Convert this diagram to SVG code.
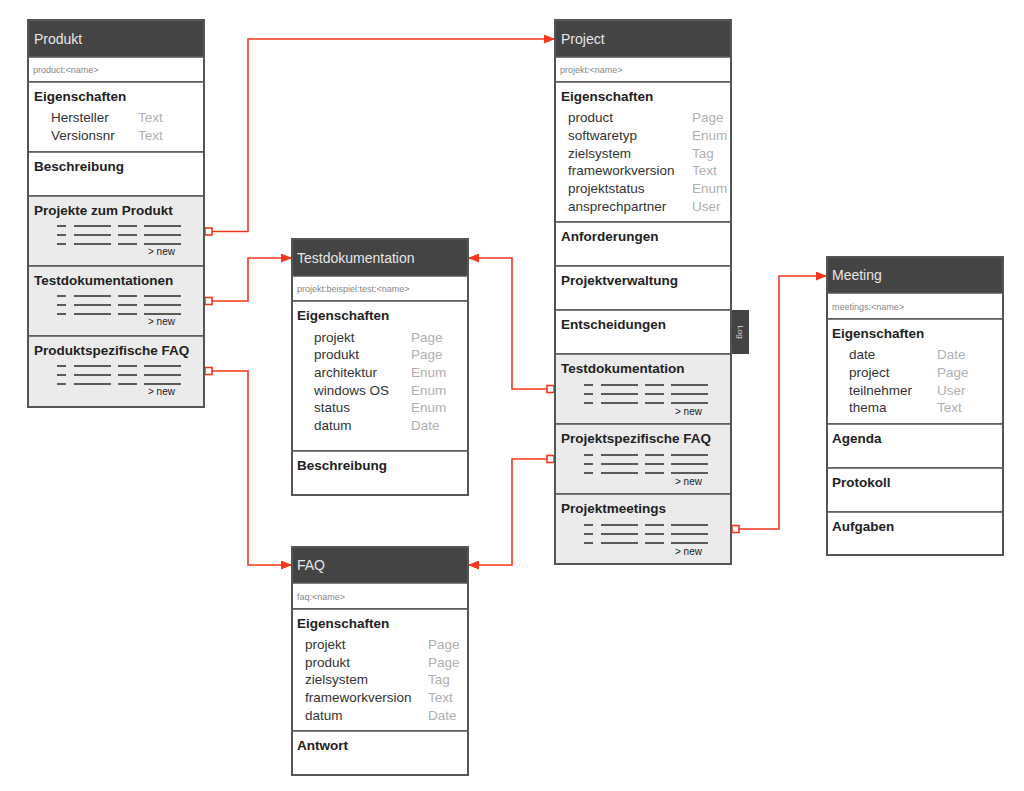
<svg xmlns="http://www.w3.org/2000/svg" xmlns:xlink="http://www.w3.org/1999/xlink" width="1024" height="791" viewBox="0 0 1024 791">
<style>
text{font-family:"Liberation Sans",Arial,Helvetica,sans-serif}
.sec{fill:#fff;stroke:#555;stroke-width:1.5}
.gsec{fill:#ebebeb;stroke:#555;stroke-width:1.5}
.hdr{fill:#444;stroke:#555;stroke-width:1.5}
.out{fill:none;stroke:#555;stroke-width:2}
.title{font-size:14px;fill:#e6e6e6}
.sub{font-size:9px;fill:#888}
.st{font-size:13.5px;font-weight:bold;fill:#222}
.pn{font-size:13.5px;fill:#333}
.pt{font-size:13.5px;fill:#b0b0b0}
.new{font-size:10px;fill:#222}
.ll{stroke:#5a5a5a;stroke-width:2}
.con{fill:none;stroke:#f4361c;stroke-width:1.6}
.sq{fill:#fff;stroke:#f4361c;stroke-width:1.6}
</style>
<defs>
<marker id="arr" markerUnits="userSpaceOnUse" markerWidth="11" markerHeight="9" refX="11" refY="4.5" orient="auto">
<path d="M0,0 L11,4.5 L0,9 z" fill="#f4361c"/>
</marker>
<g id="list">
<line class="ll" x1="29" y1="30" x2="38" y2="30"/><line class="ll" x1="46" y1="30" x2="83" y2="30"/><line class="ll" x1="90" y1="30" x2="109" y2="30"/><line class="ll" x1="116" y1="30" x2="153" y2="30"/>
<line class="ll" x1="29" y1="39" x2="38" y2="39"/><line class="ll" x1="46" y1="39" x2="83" y2="39"/><line class="ll" x1="90" y1="39" x2="109" y2="39"/><line class="ll" x1="116" y1="39" x2="153" y2="39"/>
<line class="ll" x1="29" y1="48" x2="38" y2="48"/><line class="ll" x1="46" y1="48" x2="83" y2="48"/><line class="ll" x1="90" y1="48" x2="109" y2="48"/><line class="ll" x1="116" y1="48" x2="153" y2="48"/>
</g>
</defs>
<rect width="1024" height="791" fill="#fff"/>

<g id="connectors">
<path class="con" d="M212,231.5 H248 V39 H555" marker-end="url(#arr)"/>
<path class="con" d="M212,301 H248 V258 H292" marker-end="url(#arr)"/>
<path class="con" d="M212,371 H248 V565 H292" marker-end="url(#arr)"/>
<path class="con" d="M547,389 H512 V258 H468" marker-end="url(#arr)"/>
<path class="con" d="M547,459 H512 V565 H468" marker-end="url(#arr)"/>
<path class="con" d="M739,529 H779 V276 H827" marker-end="url(#arr)"/>
<rect class="sq" x="205" y="228" width="7" height="7"/>
<rect class="sq" x="205" y="297.5" width="7" height="7"/>
<rect class="sq" x="205" y="367.5" width="7" height="7"/>
<rect class="sq" x="547" y="385.5" width="7" height="7"/>
<rect class="sq" x="547" y="455.5" width="7" height="7"/>
<rect class="sq" x="732" y="525.5" width="7" height="7"/>
</g>

<g id="produkt">
<rect class="hdr" x="28" y="20" width="176" height="37"/>
<rect class="sec" x="28" y="57" width="176" height="25"/>
<rect class="sec" x="28" y="82" width="176" height="70"/>
<rect class="sec" x="28" y="152" width="176" height="44"/>
<rect class="gsec" x="28" y="196" width="176" height="70"/>
<rect class="gsec" x="28" y="266" width="176" height="70"/>
<rect class="gsec" x="28" y="336" width="176" height="71"/>
<rect class="out" x="28" y="20" width="176" height="387"/>
<text class="title" x="34" y="44">Produkt</text>
<text class="sub" x="33" y="73">product:&lt;name&gt;</text>
<text class="st" x="34" y="101">Eigenschaften</text>
<text class="pn" x="51" y="122">Hersteller</text><text class="pt" x="138" y="122">Text</text>
<text class="pn" x="51" y="140">Versionsnr</text><text class="pt" x="138" y="140">Text</text>
<text class="st" x="34" y="171">Beschreibung</text>
<text class="st" x="34" y="215">Projekte zum Produkt</text>
<use xlink:href="#list" x="28" y="196"/>
<text class="new" x="148" y="255">&gt; new</text>
<text class="st" x="34" y="285">Testdokumentationen</text>
<use xlink:href="#list" x="28" y="266"/>
<text class="new" x="148" y="325">&gt; new</text>
<text class="st" x="34" y="355">Produktspezifische FAQ</text>
<use xlink:href="#list" x="28" y="336"/>
<text class="new" x="148" y="395">&gt; new</text>
</g>

<g id="project">
<rect x="731" y="310" width="18" height="44" fill="#444"/>
<text x="740" y="332" font-size="8" fill="#ddd" text-anchor="middle" dominant-baseline="middle" transform="rotate(90 740 332)">Log</text>
<rect class="hdr" x="555" y="20" width="176" height="37"/>
<rect class="sec" x="555" y="57" width="176" height="25"/>
<rect class="sec" x="555" y="82" width="176" height="140"/>
<rect class="sec" x="555" y="222" width="176" height="44"/>
<rect class="sec" x="555" y="266" width="176" height="44"/>
<rect class="sec" x="555" y="310" width="176" height="44"/>
<rect class="gsec" x="555" y="354" width="176" height="70"/>
<rect class="gsec" x="555" y="424" width="176" height="70"/>
<rect class="gsec" x="555" y="494" width="176" height="70"/>
<rect class="out" x="555" y="20" width="176" height="544"/>
<text class="title" x="561" y="44">Project</text>
<text class="sub" x="560" y="73">projekt:&lt;name&gt;</text>
<text class="st" x="561" y="101">Eigenschaften</text>
<text class="pn" x="568" y="122">product</text><text class="pt" x="692" y="122">Page</text>
<text class="pn" x="568" y="140">softwaretyp</text><text class="pt" x="692" y="140">Enum</text>
<text class="pn" x="568" y="157.5">zielsystem</text><text class="pt" x="692" y="157.5">Tag</text>
<text class="pn" x="568" y="175">frameworkversion</text><text class="pt" x="692" y="175">Text</text>
<text class="pn" x="568" y="193">projektstatus</text><text class="pt" x="692" y="193">Enum</text>
<text class="pn" x="568" y="210.5">ansprechpartner</text><text class="pt" x="692" y="210.5">User</text>
<text class="st" x="561" y="241">Anforderungen</text>
<text class="st" x="561" y="285">Projektverwaltung</text>
<text class="st" x="561" y="329">Entscheidungen</text>
<text class="st" x="561" y="373">Testdokumentation</text>
<use xlink:href="#list" x="555" y="355"/>
<text class="new" x="675" y="415">&gt; new</text>
<text class="st" x="561" y="443">Projektspezifische FAQ</text>
<use xlink:href="#list" x="555" y="425"/>
<text class="new" x="675" y="485">&gt; new</text>
<text class="st" x="561" y="513">Projektmeetings</text>
<use xlink:href="#list" x="555" y="495"/>
<text class="new" x="675" y="555">&gt; new</text>
</g>

<g id="testdokumentation">
<rect class="hdr" x="292" y="239" width="176" height="37"/>
<rect class="sec" x="292" y="276" width="176" height="25"/>
<rect class="sec" x="292" y="301" width="176" height="150"/>
<rect class="sec" x="292" y="451" width="176" height="44"/>
<rect class="out" x="292" y="239" width="176" height="256"/>
<text class="title" x="297" y="263">Testdokumentation</text>
<text class="sub" x="297" y="292">projekt:beispiel:test:&lt;name&gt;</text>
<text class="st" x="297" y="320">Eigenschaften</text>
<text class="pn" x="314" y="341.5">projekt</text><text class="pt" x="411" y="341.5">Page</text>
<text class="pn" x="314" y="359">produkt</text><text class="pt" x="411" y="359">Page</text>
<text class="pn" x="314" y="377">architektur</text><text class="pt" x="411" y="377">Enum</text>
<text class="pn" x="314" y="394.5">windows OS</text><text class="pt" x="411" y="394.5">Enum</text>
<text class="pn" x="314" y="412">status</text><text class="pt" x="411" y="412">Enum</text>
<text class="pn" x="314" y="429.5">datum</text><text class="pt" x="411" y="429.5">Date</text>
<text class="st" x="297" y="470">Beschreibung</text>
</g>

<g id="faq">
<rect class="hdr" x="292" y="547" width="176" height="36"/>
<rect class="sec" x="292" y="583" width="176" height="26"/>
<rect class="sec" x="292" y="609" width="176" height="122"/>
<rect class="sec" x="292" y="731" width="176" height="44"/>
<rect class="out" x="292" y="547" width="176" height="228"/>
<text class="title" x="297" y="570">FAQ</text>
<text class="sub" x="297" y="599.5">faq:&lt;name&gt;</text>
<text class="st" x="297" y="628">Eigenschaften</text>
<text class="pn" x="305" y="649">projekt</text><text class="pt" x="428" y="649">Page</text>
<text class="pn" x="305" y="666.5">produkt</text><text class="pt" x="428" y="666.5">Page</text>
<text class="pn" x="305" y="684">zielsystem</text><text class="pt" x="428" y="684">Tag</text>
<text class="pn" x="305" y="702">frameworkversion</text><text class="pt" x="428" y="702">Text</text>
<text class="pn" x="305" y="719.5">datum</text><text class="pt" x="428" y="719.5">Date</text>
<text class="st" x="297" y="750">Antwort</text>
</g>

<g id="meeting">
<rect class="hdr" x="827" y="257" width="176" height="36"/>
<rect class="sec" x="827" y="293" width="176" height="26"/>
<rect class="sec" x="827" y="319" width="176" height="105"/>
<rect class="sec" x="827" y="424" width="176" height="44"/>
<rect class="sec" x="827" y="468" width="176" height="44"/>
<rect class="sec" x="827" y="512" width="176" height="43"/>
<rect class="out" x="827" y="257" width="176" height="298"/>
<text class="title" x="832" y="280">Meeting</text>
<text class="sub" x="832" y="309.5">meetings:&lt;name&gt;</text>
<text class="st" x="832" y="338">Eigenschaften</text>
<text class="pn" x="849" y="359">date</text><text class="pt" x="937" y="359">Date</text>
<text class="pn" x="849" y="377">project</text><text class="pt" x="937" y="377">Page</text>
<text class="pn" x="849" y="394.5">teilnehmer</text><text class="pt" x="937" y="394.5">User</text>
<text class="pn" x="849" y="412">thema</text><text class="pt" x="937" y="412">Text</text>
<text class="st" x="832" y="443">Agenda</text>
<text class="st" x="832" y="487">Protokoll</text>
<text class="st" x="832" y="531">Aufgaben</text>
</g>
</svg>
